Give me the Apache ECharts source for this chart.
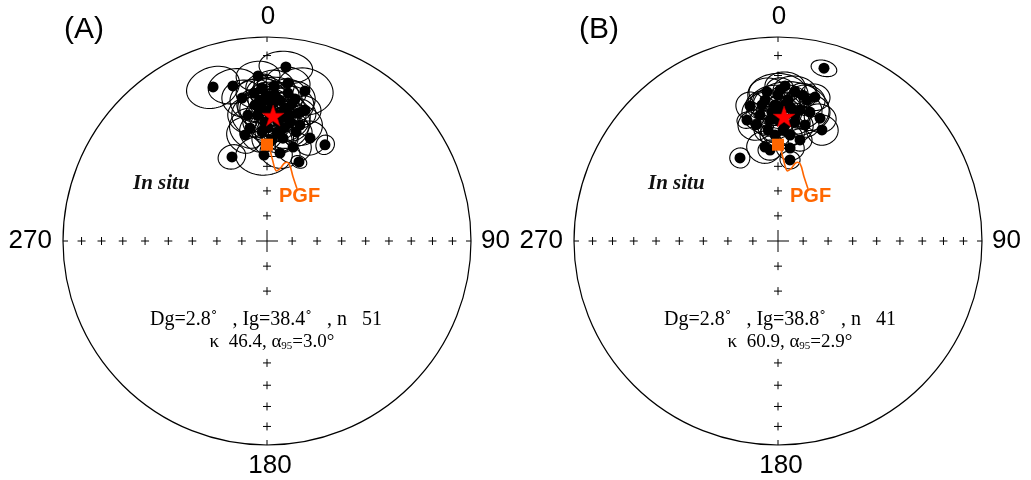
<!DOCTYPE html>
<html><head><meta charset="utf-8">
<script src="https://cdn.jsdelivr.net/npm/echarts@6/dist/echarts.min.js"></script>
<style>html,body{margin:0;padding:0;background:#fff}#c{width:1031px;height:480px}</style>
</head><body><div id="c"></div>
<script>
// ---------- data (declination, inclination, ellipse half-widths in degrees) ----------
const decA = [6.2,340.7,347.6,356.9,2.6,7.6,14.2,350.1,355.0,11.2,351.4,13.6,11.0,5.2,8.8,22.7,31.1,15.5,8.4,358.0,337.4,22.0,0.4,5.3,357.8,7.7,1.4,10.3,359.0,5.3,355.9,2.1,8.6,357.4,1.3,4.1,359.6,10.3,355.0,15.9,351.4,3.1,6.9,0.5,357.2,8.1,348.3,16.2,2.8,358.1,14.9];
const incA = [15.3,21.1,23.2,20.1,24.9,22.9,25.1,29.6,28.0,29.8,43.3,35.7,40.7,45.4,47.7,44.5,44.2,50.5,54.1,55.3,53.2,55.6,31.5,31.3,35.1,34.6,39.5,37.3,41.3,41.0,38.1,33.3,43.3,45.5,36.0,37.6,29.2,32.3,33.5,40.6,37.6,29.1,38.7,43.8,31.5,27.6,45.9,33.6,49.0,25.9,43.9];
const dDecA = [8.8,9.5,9.0,7.6,7.4,7.9,10.4,7.9,6.9,7.9,10.0,7.8,9.5,11.5,8.3,8.7,4.6,10.6,12.9,18.7,8.8,5.4,8.1,8.9,10.3,8.6,11.6,7.2,10.6,9.6,11.8,7.5,12.0,11.6,13.1,6.8,7.8,9.0,7.6,10.5,9.0,9.4,12.8,9.1,12.2,6.9,9.5,6.7,11.3,6.0,8.1];
const dIncA = [8.0,9.8,8.2,7.3,7.6,7.7,11.0,8.4,6.6,8.4,8.7,6.7,7.9,8.7,6.0,7.4,4.3,6.8,6.3,8.3,5.0,2.5,8.3,8.3,9.0,7.2,9.6,6.2,7.9,7.9,9.8,6.8,8.7,8.7,10.8,5.3,8.4,8.2,7.3,8.8,8.0,8.4,10.7,7.0,10.1,6.6,7.8,6.4,6.9,6.7,6.1];

const decB = [14.9,2.6,355.8,348.3,345.6,6.5,11.6,14.4,18.9,21.6,6.5,352.1,335.4,8.4,351.9,0.0,5.6,358.7,9.5,356.2,3.5,8.1,0.9,354.9,13.1,353.3,4.1,358.4,12.3,0.8,13.9,349.3,357.3,7.7,2.6,354.7,9.7,7.4,355.0,2.9,0.0];
const incB = [13.4,24.9,27.6,32.9,38.7,27.3,30.2,28.0,36.5,41.1,46.6,51.6,53.1,57.0,37.6,29.2,34.9,33.7,35.2,40.3,42.5,40.7,37.0,44.6,41.2,33.3,31.3,46.9,48.0,26.8,35.2,41.6,37.0,37.7,44.7,31.3,28.3,52.1,53.1,33.6,40.4];
const dDecB = [4.2,7.4,6.9,5.8,4.6,8.4,7.2,5.8,7.1,7.7,6.4,10.9,6.3,7.0,6.3,11.8,16.3,10.5,9.5,9.4,13.8,7.2,8.9,7.2,6.7,6.7,8.1,8.1,6.6,5.3,8.6,8.7,13.3,6.3,11.4,4.9,5.4,8.6,7.5,6.7,8.5];
const dIncB = [4.0,6.7,6.6,6.4,3.6,7.5,7.0,6.1,6.3,6.6,4.3,6.8,4.2,3.7,5.3,10.2,12.2,9.1,8.1,7.0,8.7,5.3,7.1,5.2,5.3,6.4,6.9,5.6,4.7,5.7,8.1,6.6,9.8,5.3,7.8,4.6,5.6,5.1,4.2,5.9,6.6];

const meanA = [2.8, 38.4];   // Dg, Ig
const meanB = [2.8, 38.8];
const pgfDir = [0.0, 51.0];  // reference direction (dec, inc)
const statsA = ['Dg=2.8˚   , Ig=38.4˚   , n   51', 'κ  46.4, α', '95', '=3.0°'];
const statsB = ['Dg=2.8˚   , Ig=38.8˚   , n   41', 'κ  60.9, α', '95', '=2.9°'];
const panelLabels = ['(A)', '(B)'];
const dirLabels = ['0', '90', '180', '270'];
const tickIncs = [10,20,30,40,50,60,70,80];
const tickDirs = [0,90,180,270];

// ---------- helpers ----------
const D2R = Math.PI/180;
function rho(inc){ return Math.SQRT2*Math.sin((90-inc)/2*D2R); } // equal-area

const SERIF = '"Liberation Serif","Times New Roman",serif';
const SANS = '"Liberation Sans",Arial,sans-serif';
const ORANGE = '#ff6600';

function ellipseSeries(pi, dec, inc, dd, di){
  return {
    type:'custom', coordinateSystem:'polar', polarIndex:pi, silent:true, z:3,
    data: dec.map((d,i)=>[rho(inc[i]), d, d, inc[i], dd[i], di[i]]),
    renderItem(params, api){
      const d=api.value(2), I=api.value(3), a=api.value(4), b=api.value(5);
      const pts=[];
      for(let k=0;k<72;k++){const t=2*Math.PI*k/72; pts.push(api.coord([rho(I+b*Math.sin(t)), d+a*Math.cos(t)]));}
      return {type:'polygon', shape:{points:pts}, style:{fill:'none', stroke:'#000', lineWidth:1.1}};
    }
  };
}
function dotSeries(pi, dec, inc){
  return {type:'scatter', coordinateSystem:'polar', polarIndex:pi, silent:true, z:4,
    symbol:'circle', symbolSize:11, itemStyle:{color:'#000', opacity:1},
    data: dec.map((d,i)=>[rho(inc[i]), d])};
}
function crossSeries(pi){
  const data=[];
  tickDirs.forEach(dir=>tickIncs.forEach(I=>data.push([rho(I), dir, 4])));
  data.push([0, 0, 11]);
  return {type:'custom', coordinateSystem:'polar', polarIndex:pi, silent:true, z:1,
    data,
    renderItem(params, api){
      const p=api.coord([api.value(0), api.value(1)]), h=api.value(2);
      return {type:'group', children:[
        {type:'line', shape:{x1:p[0]-h,y1:p[1],x2:p[0]+h,y2:p[1]}, style:{stroke:'#000', lineWidth:1}},
        {type:'line', shape:{x1:p[0],y1:p[1]-h,x2:p[0],y2:p[1]+h}, style:{stroke:'#000', lineWidth:1}}
      ]};
    }};
}
function pgfSeries(pi){
  return [
    {type:'scatter', coordinateSystem:'polar', polarIndex:pi, silent:true, z:6,
      symbol:'rect', symbolSize:12, itemStyle:{color:ORANGE, opacity:1},
      data:[[rho(pgfDir[1]), pgfDir[0]]]},
    {type:'custom', coordinateSystem:'polar', polarIndex:pi, silent:true, z:6,
      data:[[rho(pgfDir[1]), pgfDir[0]]],
      renderItem(params, api){
        const p=api.coord([api.value(0), api.value(1)]);
        const off=[[3,5],[6,17],[9,26],[13,24],[18,18],[22,19],[26,32],[30,44]];
        return {type:'polyline', shape:{points:off.map(o=>[p[0]+o[0], p[1]+o[1]]), smooth:0.4},
          style:{fill:'none', stroke:ORANGE, lineWidth:1.6}};
      }}
  ];
}
const STAR='path://M50,0 L61.8,35.1 L97.6,35.1 L68.8,56.8 L79.4,90.9 L50,69.7 L20.6,90.9 L31.2,56.8 L2.4,35.1 L38.2,35.1 Z';
function meanSeries(pi, m){
  return {type:'scatter', coordinateSystem:'polar', polarIndex:pi, silent:true, z:7,
    symbol:STAR, symbolSize:[22,21], itemStyle:{color:'#ff0000', borderColor:'#a00000', borderWidth:0.6, opacity:1},
    data:[[rho(m[1]), m[0]]]};
}

const centers=[[267,241],[778,241]];
function txt(x, y, text, font, align, fill){
  return {type:'text', x, y, z:100, style:{text, font, fill:fill||'#000', align:align||'center', verticalAlign:'middle'}};
}
function panelGraphics(i, stats){
  const cx=centers[i][0], cy=centers[i][1];
  const dx = i===0 ? 0 : 515;
  const sub = {m:{font:'19px '+SERIF, fill:'#000', lineHeight:22, verticalAlign:'bottom'},
               s:{font:'11px '+SERIF, fill:'#000', lineHeight:22, verticalAlign:'bottom'}};
  return [
    txt(cx+1, 17, dirLabels[0], '26px '+SANS),
    txt(cx+3, 466, dirLabels[2], '26px '+SANS),
    txt(cx+214, cy, dirLabels[1], '26px '+SANS, 'left'),
    txt(cx-215, cy, dirLabels[3], '26px '+SANS, 'right'),
    txt(84+dx, 30, panelLabels[i], '30px '+SANS),
    txt(133+dx, 184, 'In situ', 'italic bold 21px '+SERIF, 'left', '#111'),
    txt(cx+12, 196, 'PGF', 'bold 20px '+SANS, 'left', ORANGE),
    {type:'rect', z:99, shape:{x:cx-125, y:308, width:252, height:48}, style:{fill:'#fff'}},
    txt(cx-1+(i?3:0), 320, stats[0], '20px '+SERIF),
    {type:'text', x:cx+5+(i?7:0), y:341, z:100, style:{text:'{m|'+stats[1]+'}{s|'+stats[2]+'}{m|'+stats[3]+'}', align:'center', verticalAlign:'middle', rich:sub}}
  ];
}

const option={
  animation:false,
  backgroundColor:'#fff',
  polar: centers.map(c=>({center:c, radius:204})),
  angleAxis: centers.map((c,i)=>({
    polarIndex:i, type:'value', min:0, max:360, interval:90, startAngle:90, clockwise:true,
    axisLine:{show:true, lineStyle:{color:'#000', width:1.2}},
    axisTick:{show:true, inside:true, length:5, lineStyle:{color:'#000', width:1}},
    axisLabel:{show:false},
    splitLine:{show:false}, splitArea:{show:false}
  })),
  radiusAxis: centers.map((c,i)=>({
    polarIndex:i, type:'value', min:0, max:1,
    axisLine:{show:false}, axisTick:{show:false}, axisLabel:{show:false},
    splitLine:{show:false}, splitArea:{show:false}
  })),
  series:[
    crossSeries(0), crossSeries(1),
    ellipseSeries(0, decA, incA, dDecA, dIncA),
    ellipseSeries(1, decB, incB, dDecB, dIncB),
    dotSeries(0, decA, incA), dotSeries(1, decB, incB),
    ...pgfSeries(0), ...pgfSeries(1),
    meanSeries(0, meanA), meanSeries(1, meanB)
  ],
  graphic:[...panelGraphics(0, statsA), ...panelGraphics(1, statsB)]
};
const chart=echarts.init(document.getElementById('c'), null, {renderer:'canvas'});
chart.setOption(option);
</script>
</body></html>
